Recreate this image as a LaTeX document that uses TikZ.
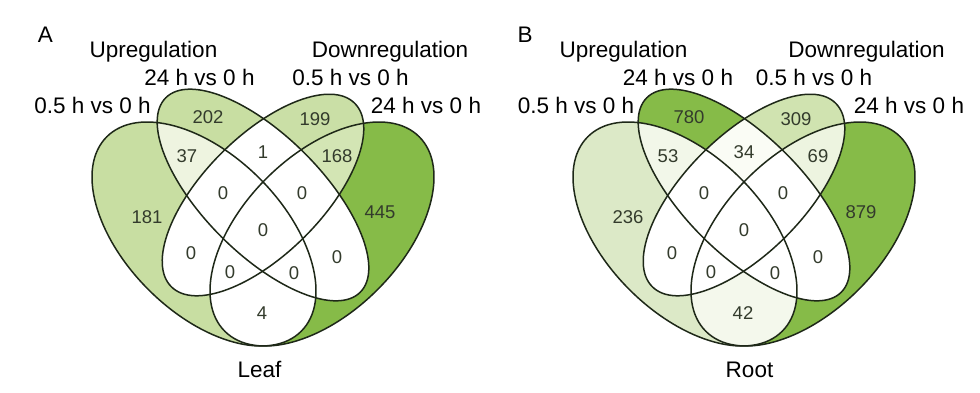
\documentclass[tikz,border=0pt]{standalone}
\usepackage{fontspec}
\setmainfont{Liberation Sans}
\definecolor{linecol}{HTML}{1E2818}
\definecolor{numcol}{HTML}{333B2C}
% panel A colours
\definecolor{aAo}{HTML}{C8DEA2}
\definecolor{aBo}{HTML}{C8DEA2}
\definecolor{aCo}{HTML}{CADFA6}
\definecolor{aDo}{HTML}{86BB48}
\definecolor{aAB}{HTML}{EEF4E0}
\definecolor{aCD}{HTML}{D3E5B4}
\definecolor{aBC}{HTML}{FFFFFF}
\definecolor{aAD}{HTML}{FFFFFF}
% panel B colours
\definecolor{bAo}{HTML}{DCE9C7}
\definecolor{bBo}{HTML}{86BB48}
\definecolor{bCo}{HTML}{D0E3B0}
\definecolor{bDo}{HTML}{86BB48}
\definecolor{bAB}{HTML}{F2F7E9}
\definecolor{bCD}{HTML}{EDF4E0}
\definecolor{bBC}{HTML}{FAFCF5}
\definecolor{bAD}{HTML}{F4F8EC}
\newcommand\vennA{(-59,39) ellipse [x radius=137.5pt, y radius=78.6pt, rotate=-45]}
\newcommand\vennB{(0,0) ellipse [x radius=137.5pt, y radius=59pt, rotate=-45]}
\newcommand\vennC{(0,0) ellipse [x radius=129.7pt, y radius=59pt, rotate=45]}
\newcommand\vennD{(59,39) ellipse [x radius=137.5pt, y radius=78.6pt, rotate=45]}
\newcommand\vennpanel[1]{%
  \fill[#1Ao] \vennA; \fill[#1Do] \vennD;
  \fill[#1Bo] \vennB; \fill[#1Co] \vennC;
  \begin{scope}\clip \vennA; \fill[#1AB] \vennB; \end{scope}
  \begin{scope}\clip \vennC; \fill[#1CD] \vennD; \end{scope}
  \begin{scope}\clip \vennB; \fill[#1BC] \vennC; \end{scope}
  \begin{scope}\clip \vennA; \fill[#1AD] \vennD; \end{scope}
  \begin{scope}\clip \vennA; \fill[white] \vennC; \end{scope}
  \begin{scope}\clip \vennB; \fill[white] \vennD; \end{scope}
  \draw[outl] \vennA; \draw[outl] \vennB; \draw[outl] \vennC; \draw[outl] \vennD;
}
\begin{document}
\begin{tikzpicture}[x=1pt,y=-1pt,
  outl/.style={draw=linecol,line width=1.5pt},
  num/.style={font=\fontsize{18.5}{20}\selectfont,text=numcol,inner sep=0pt},
  lab/.style={font=\fontsize{22.5}{26}\selectfont,inner sep=0pt,anchor=base},
]
\useasboundingbox[fill=white] (0,0) rectangle (980,392);

% ---------------- Panel A (Leaf) ----------------
\begin{scope}[shift={(263,195)}]
  \vennpanel{a}
  \node[num] (a181) at (-116,22) {181};
  \node[num] (a202) at (-55,-78) {202};
  \node[num] (a199) at (52,-76) {199};
  \node[num] (a445) at (117,17) {445};
  \node[num] (a37) at (-76,-39) {37};
  \node[num] (a1) at (0,-43) {1};
  \node[num] (a168) at (74,-39) {168};
  \node[num] (aul) at (-40,-2) {0};
  \node[num] (aur) at (39,-2) {0};
  \node[num] (ac) at (0,35) {0};
  \node[num] (al) at (-72,58) {0};
  \node[num] (ar) at (74,62) {0};
  \node[num] (all) at (-33,77) {0};
  \node[num] (alr) at (31,78) {0};
  \node[num] (a4) at (-1,118) {4};
\end{scope}
\node[lab] (aletter) at (45.5,42) {A};
\node[lab] (aup) at (153.5,57) {Upregulation};
\node[lab] (adown) at (390,57) {Downregulation};
\node[lab] (aB) at (199.5,85) {24 h vs 0 h};
\node[lab] (aC) at (350.5,85) {0.5 h vs 0 h};
\node[lab] (aA) at (92.5,113) {0.5 h vs 0 h};
\node[lab] (aD) at (426,113) {24 h vs 0 h};
\node[lab] (aleaf) at (259.5,377) {Leaf};

% ---------------- Panel B (Root) ----------------
\begin{scope}[shift={(744,195)}]
  \vennpanel{b}
  \node[num] (b236) at (-116,22) {236};
  \node[num] (b780) at (-55,-78) {780};
  \node[num] (b309) at (52,-76) {309};
  \node[num] (b879) at (117,17) {879};
  \node[num] (b53) at (-76,-39) {53};
  \node[num] (b34) at (0,-43) {34};
  \node[num] (b69) at (74,-39) {69};
  \node[num] (bul) at (-40,-2) {0};
  \node[num] (bur) at (39,-2) {0};
  \node[num] (bc) at (0,35) {0};
  \node[num] (bl) at (-72,58) {0};
  \node[num] (br) at (74,62) {0};
  \node[num] (bll) at (-33,77) {0};
  \node[num] (blr) at (31,78) {0};
  \node[num] (b42) at (-1,118) {42};
\end{scope}
\node[lab] (bletter) at (525,42) {B};
\node[lab] (bup) at (623.5,57) {Upregulation};
\node[lab] (bdown) at (866.5,57) {Downregulation};
\node[lab] (bB) at (678,85) {24 h vs 0 h};
\node[lab] (bC) at (814,85) {0.5 h vs 0 h};
\node[lab] (bA) at (576,113) {0.5 h vs 0 h};
\node[lab] (bD) at (909,113) {24 h vs 0 h};
\node[lab] (broot) at (749.5,377) {Root};
\end{tikzpicture}
\end{document}
